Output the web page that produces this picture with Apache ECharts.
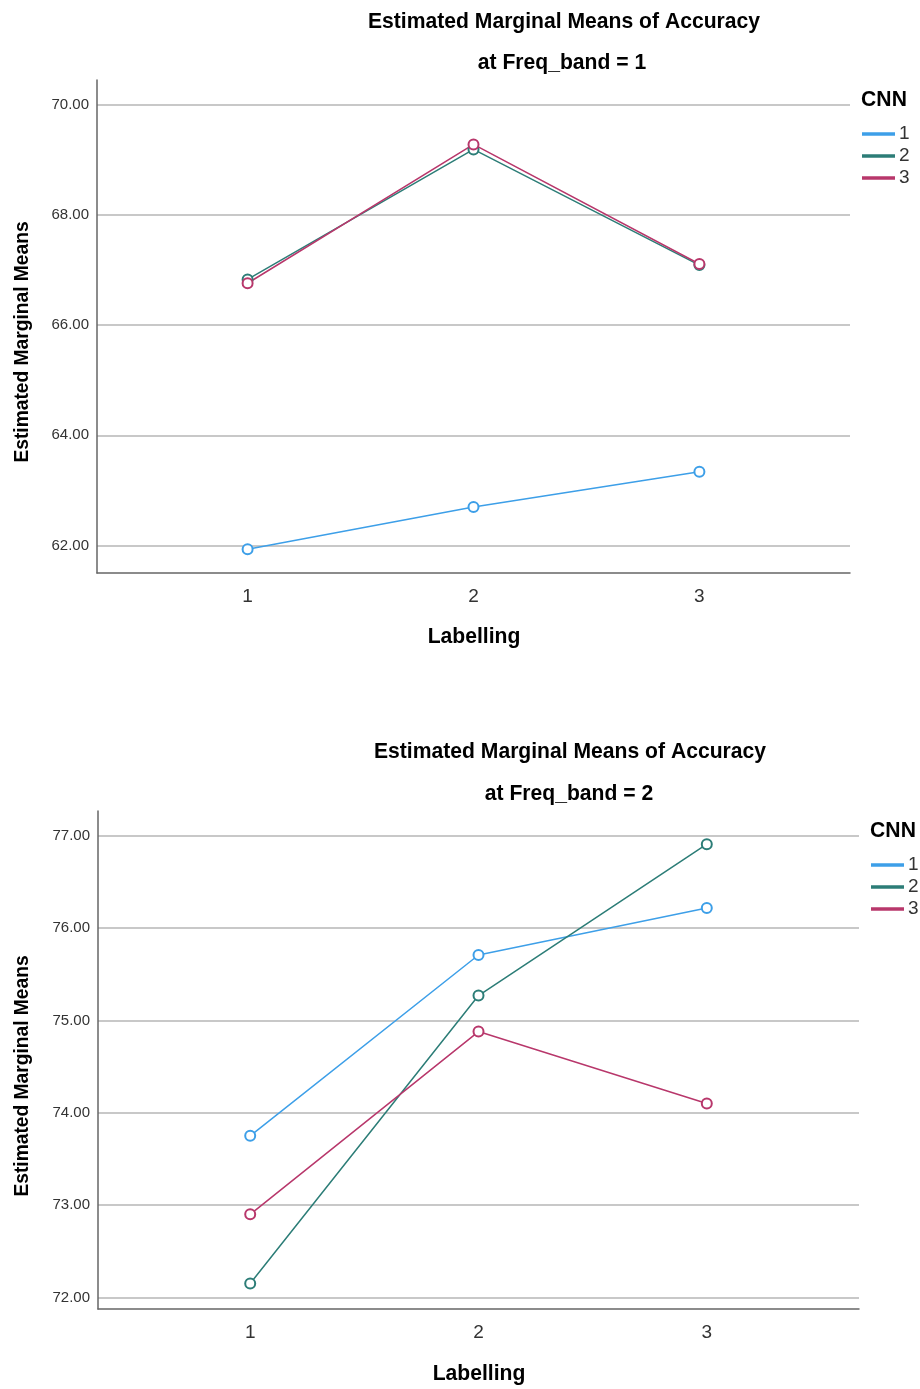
<!DOCTYPE html>
<html>
<head>
<meta charset="utf-8">
<script src="https://cdn.jsdelivr.net/npm/echarts@6/dist/echarts.min.js"></script>
<style>
html,body{margin:0;padding:0;background:#fff;}
#chart{width:920px;height:1389px;}
</style>
</head>
<body>
<div id="chart"></div>
<script>
// ---- data ----
var labelling = [1, 2, 3];
var cnnNames = ['1', '2', '3'];
var band1Cnn1 = [61.93, 62.70, 63.34];
var band1Cnn2 = [66.83, 69.19, 67.09];
var band1Cnn3 = [66.76, 69.28, 67.11];
var band2Cnn1 = [73.75, 75.71, 76.22];
var band2Cnn2 = [72.15, 75.27, 76.91];
var band2Cnn3 = [72.90, 74.88, 74.10];
var yTicks1 = [62, 64, 66, 68, 70];
var yTicks2 = [72, 73, 74, 75, 76, 77];
var title1 = 'Estimated Marginal Means of Accuracy';
var sub1 = 'at Freq_band = 1';
var sub2 = 'at Freq_band = 2';

var FONT = '"Liberation Sans", Arial, sans-serif';
var colors = ['#3d9fe8', '#2c7d77', '#b8376b'];
var NARROW = 0.96;

function pts(vals) { return labelling.map(function (x, i) { return [x, vals[i]]; }); }

function mkSeries(name, vals, idx, ci) {
  return {
    type: 'line', name: name, xAxisIndex: idx, yAxisIndex: idx,
    data: pts(vals), symbol: 'emptyCircle', symbolSize: 10,
    lineStyle: { color: colors[ci], width: 1.5 },
    itemStyle: { color: colors[ci], borderColor: colors[ci], borderWidth: 1.5 },
    emphasis: { disabled: true }, animation: false
  };
}

function mkX(idx) {
  return {
    type: 'value', gridIndex: idx, min: 1 / 3, max: 11 / 3,
    axisLine: { show: true, onZero: false, lineStyle: { color: '#666', width: 1.5 } },
    axisTick: { show: false, customValues: labelling },
    splitLine: { show: false },
    axisLabel: { customValues: labelling, margin: 14, fontSize: 19, color: '#333', fontFamily: FONT }
  };
}
function mkY(idx, mn, mx, ticks) {
  return {
    type: 'value', gridIndex: idx, min: mn, max: mx,
    axisLine: { show: true, lineStyle: { color: '#666', width: 1.5 } },
    axisTick: { show: false, customValues: ticks },
    splitLine: { show: true, lineStyle: { color: '#c8c8c8', width: 2 } },
    axisLabel: { customValues: ticks, margin: 8, fontSize: 15, color: '#333', fontFamily: FONT,
      formatter: function (v) { return v.toFixed(2); } }
  };
}
function txt(x, y, s, size, bold, rot) {
  return {
    type: 'text', x: x, y: y, rotation: rot || 0, scaleX: NARROW, scaleY: 1,
    style: { text: s, fontSize: size, fontWeight: bold ? 'bold' : 'normal', fontFamily: FONT,
      fill: '#000', align: 'center', verticalAlign: 'middle' }
  };
}
function mkLegend(left, top) {
  return {
    orient: 'vertical', left: left, top: top, data: cnnNames,
    icon: 'rect', itemWidth: 31, itemHeight: 1.5, itemGap: 0,
    textStyle: { fontSize: 19, fontFamily: FONT, color: '#333', lineHeight: 22 },
    selectedMode: false
  };
}

var chart = echarts.init(document.getElementById('chart'), null, { renderer: 'canvas' });
chart.setOption({
  backgroundColor: '#fff',
  animation: false,
  color: colors,
  grid: [
    { left: 97, top: 80, width: 753, height: 493 },
    { left: 98, top: 811, width: 761, height: 498 }
  ],
  xAxis: [mkX(0), mkX(1)],
  yAxis: [mkY(0, 61.5, 70.45, yTicks1), mkY(1, 71.874, 77.27, yTicks2)],
  legend: [mkLegend(857, 118), mkLegend(866, 849)],
  series: [
    mkSeries(cnnNames[0], band1Cnn1, 0, 0),
    mkSeries(cnnNames[1], band1Cnn2, 0, 1),
    mkSeries(cnnNames[2], band1Cnn3, 0, 2),
    mkSeries(cnnNames[0], band2Cnn1, 1, 0),
    mkSeries(cnnNames[1], band2Cnn2, 1, 1),
    mkSeries(cnnNames[2], band2Cnn3, 1, 2)
  ],
  graphic: [
    txt(564, 22, title1, 22, true),
    txt(562, 63, sub1, 22, true),
    txt(22, 342, 'Estimated Marginal Means', 20, true, Math.PI / 2),
    txt(474, 637, 'Labelling', 22, true),
    txt(884, 100, 'CNN', 22, true),
    txt(570, 752, title1, 22, true),
    txt(569, 794, sub2, 22, true),
    txt(22, 1076, 'Estimated Marginal Means', 20, true, Math.PI / 2),
    txt(479, 1374, 'Labelling', 22, true),
    txt(893, 831, 'CNN', 22, true)
  ]
});
</script>
</body>
</html>
